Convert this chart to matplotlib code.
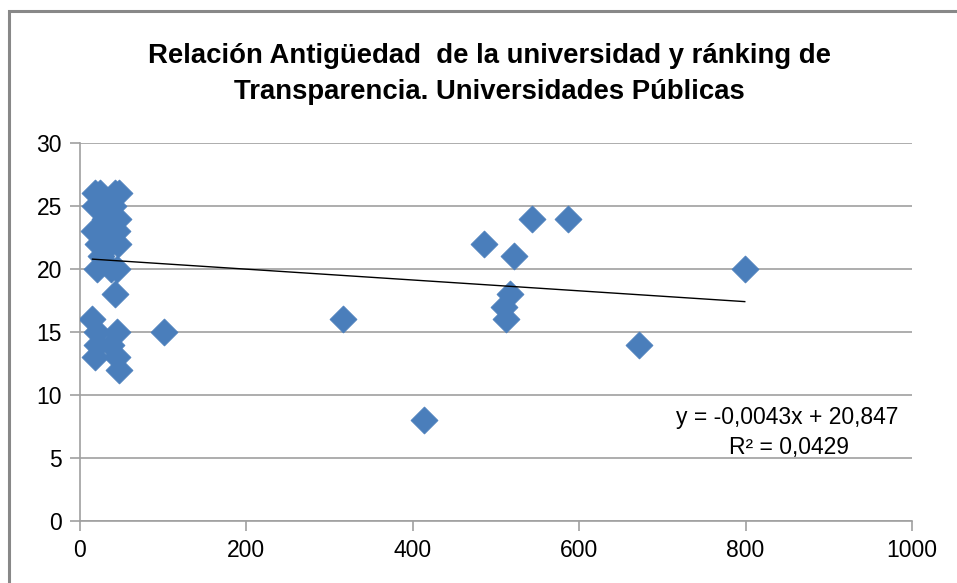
import matplotlib
matplotlib.use("Agg")
import matplotlib.pyplot as plt
import numpy as np
from matplotlib.patches import Rectangle

plt.rcParams['font.family'] = ['Liberation Sans Narrow', 'Liberation Sans', 'DejaVu Sans']

# Data: antigüedad (años) vs ranking de transparencia
antiguedad = [18, 24, 42, 47,
              18, 30, 40,
              30, 46,
              17, 33, 44,
              22, 36, 46,
              25,
              21, 37, 44,
              42,
              15,
              20, 45,
              20, 37,
              18, 44,
              47,
              101, 316, 413, 486, 522, 543, 587, 510, 512, 517, 672, 799]
ranking = [26, 26, 26, 26,
           25, 25, 25,
           24, 24,
           23, 23, 23,
           22, 22, 22,
           21,
           20, 20, 20,
           18,
           16,
           15, 15,
           14, 14,
           13, 13,
           12,
           15, 16, 8, 22, 21, 24, 24, 17, 16, 18, 14, 20]

slope = -0.0043
intercept = 20.847
eq_text = "y = -0,0043x + 20,847"
r2_text = "R² = 0,0429"
title = "Relación Antigüedad  de la universidad y ránking de\nTransparencia. Universidades Públicas"
xticks = [0, 200, 400, 600, 800, 1000]
yticks = [0, 5, 10, 15, 20, 25, 30]

fig = plt.figure(figsize=(9.57, 5.83), dpi=100)
fig.patch.set_facecolor('white')

# Chart area border
fig.patches.append(Rectangle((9/957, -0.1), 1.2, 1 - 11/583 + 0.1, transform=fig.transFigure,
                             fill=False, edgecolor='#888888', linewidth=2.2))

ax = fig.add_axes([80/957, 62/583, 832/957, 378/583])
ax.set_xlim(0, 1000)
ax.set_ylim(0, 30)
ax.set_xticks(xticks)
ax.set_yticks(yticks)
ax.grid(axis='y', color='#a0a0a0', linewidth=1.2)
ax.set_axisbelow(True)
for s in ['top', 'right']:
    ax.spines[s].set_visible(False)
for s in ['left', 'bottom']:
    ax.spines[s].set_color('#a0a0a0')
    ax.spines[s].set_linewidth(1.2)
ax.tick_params(axis='both', colors='#a0a0a0', length=7, width=1.2, labelsize=16.5,
               labelcolor='black', pad=6)

ax.scatter(antiguedad, ranking, marker='D', s=190, color='#4A7EBB', edgecolors='#4A7EBB',
           linewidths=0.5, zorder=3)

xs = np.array([min(antiguedad), max(antiguedad)])
ax.plot(xs, slope * xs + intercept, color='black', linewidth=1, zorder=4)

ax.text(984, 8.2, eq_text, ha='right', va='center', fontsize=16.5)
ax.text(924, 5.8, r2_text, ha='right', va='center', fontsize=16.5)

fig.text(489/957, 0.873, title, ha='center', va='center', fontsize=19.8, fontweight='bold',
         linespacing=1.5)

fig.savefig('out.png', dpi=100)
